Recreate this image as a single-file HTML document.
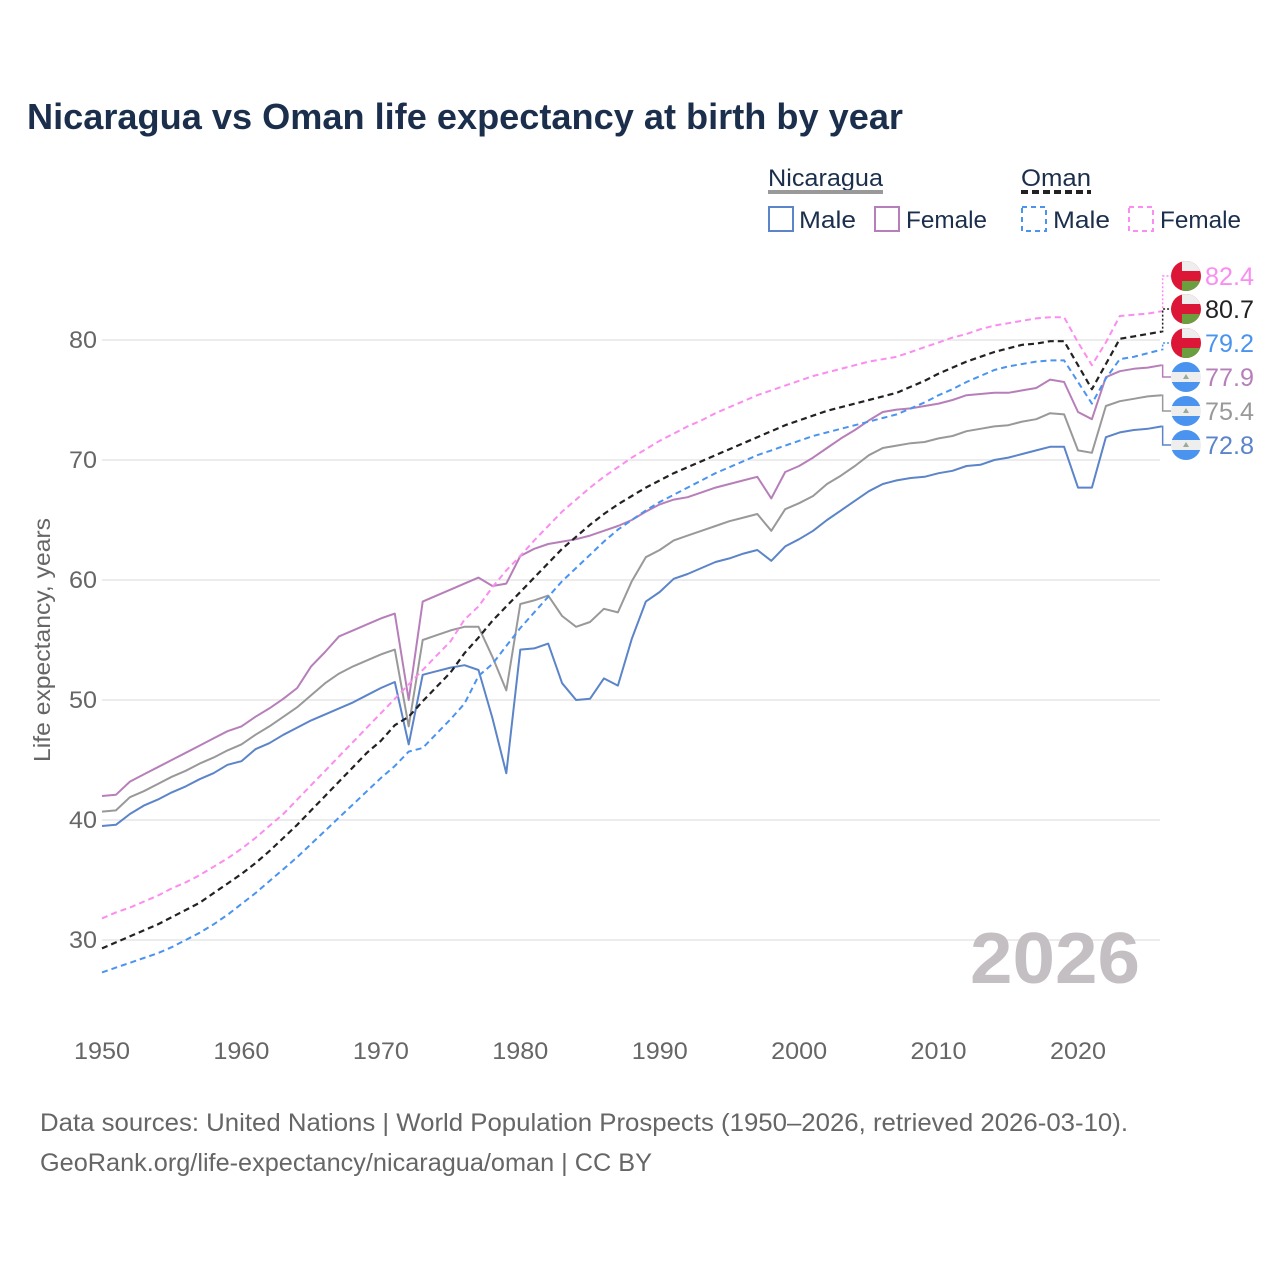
<!DOCTYPE html>
<html><head><meta charset="utf-8">
<style>
body{margin:0;background:#fff;}
svg{display:block;font-family:"Liberation Sans",sans-serif;}
</style></head>
<body>
<svg id="chart" width="1280" height="1280" viewBox="0 0 1280 1280">
<rect width="1280" height="1280" fill="#fff"/>
<text x="27" y="129" font-size="36" font-weight="bold" fill="#1b2f4d" textLength="876" lengthAdjust="spacingAndGlyphs">Nicaragua vs Oman life expectancy at birth by year</text>
<g>
<text x="768" y="186" font-size="24" fill="#1b2f4d" textLength="115" lengthAdjust="spacingAndGlyphs">Nicaragua</text>
<line x1="768" y1="192" x2="883" y2="192" stroke="#999" stroke-width="4"/>
<text x="1021" y="186" font-size="24" fill="#1b2f4d" textLength="70" lengthAdjust="spacingAndGlyphs">Oman</text>
<line x1="1021" y1="192" x2="1091" y2="192" stroke="#222" stroke-width="4" stroke-dasharray="7,4"/>
<g><rect x="769" y="207" width="24" height="24" fill="none" stroke="#5b84c9" stroke-width="2"/><text x="799" y="228" font-size="24" fill="#1b2f4d" textLength="57" lengthAdjust="spacingAndGlyphs">Male</text></g>
<g><rect x="875" y="207" width="24" height="24" fill="none" stroke="#b77fb9" stroke-width="2"/><text x="906" y="228" font-size="24" fill="#1b2f4d" textLength="81" lengthAdjust="spacingAndGlyphs">Female</text></g>
<g><rect x="1022" y="207" width="24" height="24" fill="none" stroke="#4a94ef" stroke-width="2" stroke-dasharray="5,4"/><text x="1053" y="228" font-size="24" fill="#1b2f4d" textLength="57" lengthAdjust="spacingAndGlyphs">Male</text></g>
<g><rect x="1129" y="207" width="24" height="24" fill="none" stroke="#fb8cf0" stroke-width="2" stroke-dasharray="5,4"/><text x="1160" y="228" font-size="24" fill="#1b2f4d" textLength="81" lengthAdjust="spacingAndGlyphs">Female</text></g>
</g>
<g id="grid"></g>
<g id="yticks"></g>
<g id="xticks"></g>
<text transform="translate(50,640) rotate(-90)" text-anchor="middle" font-size="23" fill="#666" textLength="244" lengthAdjust="spacingAndGlyphs">Life expectancy, years</text>
<text x="1140" y="983" text-anchor="end" font-size="72" font-weight="bold" fill="#c3bfc3" textLength="170" lengthAdjust="spacingAndGlyphs">2026</text>
<g id="series"></g>
<g id="labels"></g>
<text x="40" y="1131" font-size="25" fill="#666" textLength="1088" lengthAdjust="spacingAndGlyphs">Data sources: United Nations | World Population Prospects (1950–2026, retrieved 2026-03-10).</text>
<text x="40" y="1171" font-size="25" fill="#666" textLength="612" lengthAdjust="spacingAndGlyphs">GeoRank.org/life-expectancy/nicaragua/oman | CC BY</text>
</svg>
<script>
const years = [];
for (let y = 1950; y <= 2026; y++) years.push(y);
const yTicks = [30, 40, 50, 60, 70, 80];
const xTicks = [1950, 1960, 1970, 1980, 1990, 2000, 2010, 2020];
const nicMale = [39.5,39.6,40.5,41.2,41.7,42.3,42.8,43.4,43.9,44.6,44.9,45.9,46.4,47.1,47.7,48.3,48.8,49.3,49.8,50.4,51.0,51.5,46.3,52.1,52.4,52.7,52.9,52.5,48.5,43.9,54.2,54.3,54.7,51.4,50.0,50.1,51.8,51.2,55.1,58.2,59.0,60.1,60.5,61.0,61.5,61.8,62.2,62.5,61.6,62.8,63.4,64.1,65.0,65.8,66.6,67.4,68.0,68.3,68.5,68.6,68.9,69.1,69.5,69.6,70.0,70.2,70.5,70.8,71.1,71.1,67.7,67.7,71.9,72.3,72.5,72.6,72.8];
const nicTotal = [40.7,40.8,41.9,42.4,43.0,43.6,44.1,44.7,45.2,45.8,46.3,47.1,47.8,48.6,49.4,50.4,51.4,52.2,52.8,53.3,53.8,54.2,47.8,55.0,55.4,55.8,56.1,56.1,53.6,50.8,58.0,58.3,58.7,57.0,56.1,56.5,57.6,57.3,59.9,61.9,62.5,63.3,63.7,64.1,64.5,64.9,65.2,65.5,64.1,65.9,66.4,67.0,68.0,68.7,69.5,70.4,71.0,71.2,71.4,71.5,71.8,72.0,72.4,72.6,72.8,72.9,73.2,73.4,73.9,73.8,70.8,70.6,74.5,74.9,75.1,75.3,75.4];
const nicFemale = [42.0,42.1,43.2,43.8,44.4,45.0,45.6,46.2,46.8,47.4,47.8,48.6,49.3,50.1,51.0,52.8,54.0,55.3,55.8,56.3,56.8,57.2,50.0,58.2,58.7,59.2,59.7,60.2,59.5,59.7,62.0,62.6,63.0,63.2,63.4,63.7,64.1,64.5,65.0,65.7,66.3,66.7,66.9,67.3,67.7,68.0,68.3,68.6,66.8,69.0,69.5,70.2,71.0,71.8,72.5,73.3,74.0,74.2,74.3,74.5,74.7,75.0,75.4,75.5,75.6,75.6,75.8,76.0,76.7,76.5,74.0,73.4,76.9,77.4,77.6,77.7,77.9];
const omaTotal = [29.3,29.8,30.3,30.8,31.3,31.9,32.5,33.1,33.9,34.7,35.5,36.4,37.4,38.5,39.6,40.8,42.0,43.2,44.4,45.6,46.6,47.9,48.6,49.9,51.1,52.3,53.9,55.2,56.6,57.8,59.0,60.2,61.4,62.6,63.6,64.6,65.5,66.3,67.0,67.7,68.3,68.9,69.4,69.9,70.4,70.9,71.4,71.9,72.4,72.9,73.3,73.7,74.1,74.4,74.7,75.0,75.3,75.6,76.1,76.6,77.2,77.7,78.2,78.6,79.0,79.3,79.6,79.7,79.9,79.9,77.9,75.9,78.0,80.1,80.3,80.5,80.7];
const omaMale = [27.3,27.7,28.1,28.5,28.9,29.4,30.0,30.6,31.3,32.1,33.0,33.9,34.9,35.9,36.9,38.0,39.1,40.2,41.3,42.4,43.5,44.5,45.7,46.0,47.2,48.4,49.7,52.0,53.0,54.5,56.0,57.3,58.6,59.9,61.0,62.1,63.2,64.2,65.0,65.8,66.5,67.1,67.7,68.3,68.9,69.4,69.9,70.4,70.8,71.2,71.6,72.0,72.3,72.6,72.9,73.2,73.5,73.8,74.3,74.8,75.4,75.9,76.5,77.0,77.5,77.8,78.0,78.2,78.3,78.3,76.5,74.7,76.8,78.4,78.6,78.9,79.2];
const omaFemale = [31.8,32.3,32.7,33.2,33.7,34.3,34.8,35.4,36.1,36.8,37.6,38.5,39.5,40.5,41.7,42.9,44.1,45.3,46.5,47.7,48.9,50.1,51.3,52.5,53.7,54.9,56.7,57.8,59.4,60.8,62.0,63.3,64.5,65.7,66.7,67.7,68.6,69.4,70.2,70.9,71.6,72.2,72.8,73.3,73.9,74.4,74.9,75.4,75.8,76.2,76.6,77.0,77.3,77.6,77.9,78.2,78.4,78.6,79.0,79.4,79.8,80.2,80.5,80.9,81.2,81.4,81.6,81.8,81.9,81.9,79.8,77.9,79.8,82.0,82.1,82.2,82.4];

const NS = 'http://www.w3.org/2000/svg';
const xS = yr => 102 + (yr - 1950) * (976 / 70);
const yS = v => 340 + (80 - v) * 12;
function mk(tag, attrs, parent) {
  const e = document.createElementNS(NS, tag);
  for (const k in attrs) e.setAttribute(k, attrs[k]);
  parent.appendChild(e);
  return e;
}
const grid = document.getElementById('grid');
const yt = document.getElementById('yticks');
const xt = document.getElementById('xticks');
yTicks.forEach(v => {
  const l = mk('line', {x1: 102, x2: 1160, y1: yS(v), y2: yS(v), stroke: '#e6e6e6', 'stroke-width': 1.5}, grid);
  
  
  const t = mk('text', {x: 97, y: yS(v) + 8, 'text-anchor': 'end', 'font-size': 24, fill: '#666', textLength: 28, lengthAdjust: 'spacingAndGlyphs'}, yt);
  t.textContent = v;
  
  
});
xTicks.forEach(v => {
  const t = mk('text', {x: xS(v), y: 1059, 'text-anchor': 'middle', 'font-size': 24, fill: '#666', textLength: 56, lengthAdjust: 'spacingAndGlyphs'}, xt);
  t.textContent = v;
  
  
});
const series = [
  {name: 'oman-female', d: omaFemale, c: '#fb8cf0', dash: '6,4', w: 2, ly: 276, flag: 'om'},
  {name: 'oman-total', d: omaTotal, c: '#222', dash: '6,4', w: 2.2, ly: 309, flag: 'om'},
  {name: 'oman-male', d: omaMale, c: '#4a94ef', dash: '6,4', w: 2, ly: 343, flag: 'om'},
  {name: 'nicaragua-female', d: nicFemale, c: '#b77fb9', dash: '', w: 2, ly: 377, flag: 'ni'},
  {name: 'nicaragua-total', d: nicTotal, c: '#999', dash: '', w: 2, ly: 411, flag: 'ni'},
  {name: 'nicaragua-male', d: nicMale, c: '#5b84c9', dash: '', w: 2, ly: 445, flag: 'ni'}
];
const sg = document.getElementById('series');
const lg = document.getElementById('labels');
series.slice().reverse().forEach(s => {
  const pts = s.d.map((v, i) => xS(years[i]).toFixed(1) + ',' + yS(v).toFixed(1)).join(' ');
  const attrs = {points: pts, fill: 'none', stroke: s.c, 'stroke-width': s.w, 'stroke-linejoin': 'round'};
  if (s.dash) attrs['stroke-dasharray'] = s.dash;
  const p = mk('polyline', attrs, sg);
  
  
});
series.forEach(s => {
  const last = s.d[s.d.length - 1];
  const ex = xS(2026), ey = yS(last);
  const g = mk('g', {}, lg);
  
  
  mk('polyline', {points: ex + ',' + ey + ' ' + (ex + 1) + ',' + ey + ' ' + (ex + 1) + ',' + s.ly + ' ' + (ex + 10) + ',' + s.ly, fill: 'none', stroke: s.c, 'stroke-width': 1.5, 'stroke-dasharray': s.dash ? '2,2' : ''}, g);
  const cx = 1186, cy = s.ly;
  const clipId = 'clip-' + s.name;
  const cp = mk('clipPath', {id: clipId}, g);
  mk('circle', {cx: cx, cy: cy, r: 15}, cp);
  const fg = mk('g', {'clip-path': 'url(#' + clipId + ')'}, g);
  if (s.flag === 'om') {
    mk('rect', {x: cx - 15, y: cy - 15, width: 30, height: 30, fill: '#db1636'}, fg);
    mk('rect', {x: cx - 4, y: cy - 15, width: 19, height: 10, fill: '#eee'}, fg);
    mk('rect', {x: cx - 4, y: cy + 5, width: 19, height: 10, fill: '#6a9e3f'}, fg);
  } else {
    mk('rect', {x: cx - 15, y: cy - 15, width: 30, height: 30, fill: '#eee'}, fg);
    mk('rect', {x: cx - 15, y: cy - 15, width: 30, height: 10, fill: '#4a94ef'}, fg);
    mk('rect', {x: cx - 15, y: cy + 5, width: 30, height: 10, fill: '#4a94ef'}, fg);
    mk('polygon', {points: (cx - 3) + ',' + (cy + 2) + ' ' + (cx + 3) + ',' + (cy + 2) + ' ' + cx + ',' + (cy - 3), fill: '#9a9'}, fg);
  }
  const t = mk('text', {x: 1205, y: s.ly + 9, 'font-size': 25, fill: s.c, textLength: 49, lengthAdjust: 'spacingAndGlyphs'}, g);
  t.textContent = last.toFixed(1);
});
</script>
</body></html>
